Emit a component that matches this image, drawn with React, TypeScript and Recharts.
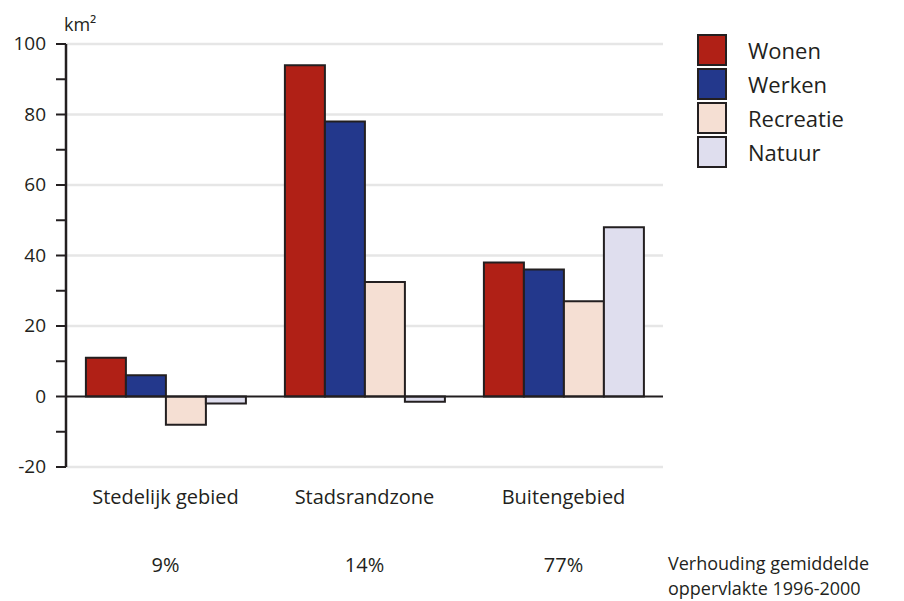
import React from "react";
import { BarChart, Bar, XAxis, YAxis, ReferenceLine, CartesianGrid } from "recharts";

const regions = ["Stedelijk gebied", "Stadsrandzone", "Buitengebied"];
const shares = ["9%", "14%", "77%"];
const wonen = [11, 94, 38];
const werken = [6, 78, 36];
const recreatie = [-8, 32.5, 27];
const natuur = [-2, -1.5, 48];
const yTicks = [-20, -10, 0, 10, 20, 30, 40, 50, 60, 70, 80, 90, 100];
const gridTicks = [-20, 20, 40, 60, 80, 100];

const series = [
  { key: "wonen", name: "Wonen", color: "#b02016" },
  { key: "werken", name: "Werken", color: "#23388c" },
  { key: "recreatie", name: "Recreatie", color: "#f5dfd3" },
  { key: "natuur", name: "Natuur", color: "#dfdeee" },
];

const data = regions.map((r, i) => ({
  region: r,
  share: shares[i],
  wonen: wonen[i],
  werken: werken[i],
  recreatie: recreatie[i],
  natuur: natuur[i],
}));

const ink = "#231f20";
const font = "'Open Sans', 'DejaVu Sans', sans-serif";

function YTick(props: any) {
  const { x, y, payload } = props;
  if (payload.value % 20 !== 0) return null;
  return (
    <text x={x} y={y} dy={6} textAnchor="end" fontSize={19} fill={ink} fontFamily={font}>
      {payload.value}
    </text>
  );
}

function XTick(props: any) {
  const { x, y, payload, index } = props;
  return (
    <g>
      <text x={x} y={y + 29} textAnchor="middle" fontSize={20} fill={ink} fontFamily={font}>
        {payload.value}
      </text>
      <text x={x} y={y + 97} textAnchor="middle" fontSize={20} fill={ink} fontFamily={font}>
        {shares[index]}
      </text>
    </g>
  );
}

function LegendBox() {
  return (
    <div style={{ position: "absolute", left: 697, top: 33 }}>
      {series.map((s) => (
        <div key={s.key} style={{ display: "flex", alignItems: "center", height: 34 }}>
          <div
            style={{
              width: 26,
              height: 28,
              background: s.color,
              border: `2px solid ${ink}`,
            }}
          />
          <span style={{ marginLeft: 21, fontSize: 22, color: ink, fontFamily: font }}>{s.name}</span>
        </div>
      ))}
    </div>
  );
}

export default function App() {
  return (
    <div style={{ position: "absolute", left: 0, top: 0, width: 904, height: 601, background: "#fff", fontFamily: font }}>
      <BarChart
        width={904}
        height={601}
        data={data}
        margin={{ top: 44, right: 241, left: 0, bottom: 0 }}
        barCategoryGap="10%"
        barGap={0}
      >
        <CartesianGrid vertical={false} horizontalValues={gridTicks} stroke="#e6e6e6" strokeWidth={2.5} />
        <XAxis
          dataKey="region"
          height={134}
          axisLine={false}
          tickLine={false}
          tick={<XTick />}
          interval={0}
        />
        <YAxis
          width={66}
          domain={[-20, 100]}
          ticks={yTicks}
          interval={0}
          tickSize={10}
          tickMargin={10}
          axisLine={{ stroke: ink, strokeWidth: 2.5 }}
          tickLine={{ stroke: ink, strokeWidth: 2 }}
          tick={<YTick />}
        />
        {series.map((s) => (
          <Bar
            key={s.key}
            dataKey={s.key}
            name={s.name}
            fill={s.color}
            stroke={ink}
            strokeWidth={2}
            isAnimationActive={false}
          />
        ))}
        <ReferenceLine y={0} stroke={ink} strokeWidth={2} />
      </BarChart>
      <div style={{ position: "absolute", left: 64, top: 12, fontSize: 18, color: ink }}>km²</div>
      <LegendBox />
      <div style={{ position: "absolute", left: 668, top: 551, fontSize: 18, color: ink, lineHeight: "25px", whiteSpace: "nowrap" }}>
        Verhouding gemiddelde
        <br />
        oppervlakte 1996-2000
      </div>
    </div>
  );
}
